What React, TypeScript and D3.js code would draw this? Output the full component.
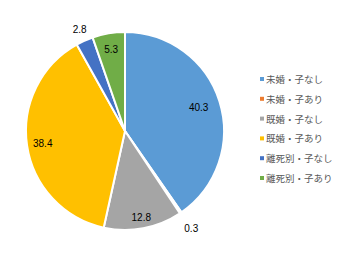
import React from "react";
import * as d3 from "d3";

const categories = ["未婚・子なし", "未婚・子あり", "既婚・子なし", "既婚・子あり", "離死別・子なし", "離死別・子あり"];
const values = [40.3, 0.3, 12.8, 38.4, 2.8, 5.3];
const colors = ["#5B9BD5", "#ED7D31", "#A5A5A5", "#FFC000", "#4472C4", "#70AD47"];
const labelRadiusFactor = [0.78, 1.19, 0.89, 0.84, 1.12, 0.84];

export default function App() {
  const width = 340;
  const height = 260;
  const cx = 125;
  const cy = 131;
  const r = 99;

  const pie = d3.pie<number>().sort(null).value((d) => d);
  const arcs = pie(values);
  const arc = d3.arc<d3.PieArcDatum<number>>().innerRadius(0).outerRadius(r);

  const legendX = 260;
  const legendY0 = 79;
  const legendStep = 19.8;

  return (
    <svg width={width} height={height} style={{ position: "absolute", left: 0, top: 0 }}>
      <rect width={width} height={height} fill="#ffffff" />
      <g transform={`translate(${cx},${cy})`}>
        {arcs.map((a, i) => (
          <path key={i} d={arc(a) || ""} fill={colors[i]} stroke="#ffffff" strokeWidth={2} strokeLinejoin="round" />
        ))}
        {arcs.map((a, i) => {
          const mid = (a.startAngle + a.endAngle) / 2;
          const lr = r * labelRadiusFactor[i];
          const x = Math.sin(mid) * lr;
          const y = -Math.cos(mid) * lr;
          return (
            <text
              key={"l" + i}
              x={x}
              y={y}
              textAnchor="middle"
              dominantBaseline="central"
              fontFamily="'Liberation Sans', Arial, sans-serif"
              fontSize={10}
              fill="#000000"
            >
              {values[i].toFixed(1)}
            </text>
          );
        })}
      </g>
      <g>
        {categories.map((c, i) => (
          <g key={"g" + i} transform={`translate(${legendX},${legendY0 + i * legendStep})`}>
            <rect x={0} y={-2} width={4} height={4} fill={colors[i]} />
            <text
              x={6}
              y={0}
              dominantBaseline="central"
              fontFamily="'Noto Sans CJK JP', sans-serif"
              fontSize={9.5}
              fill="#595959"
            >
              {c}
            </text>
          </g>
        ))}
      </g>
    </svg>
  );
}
